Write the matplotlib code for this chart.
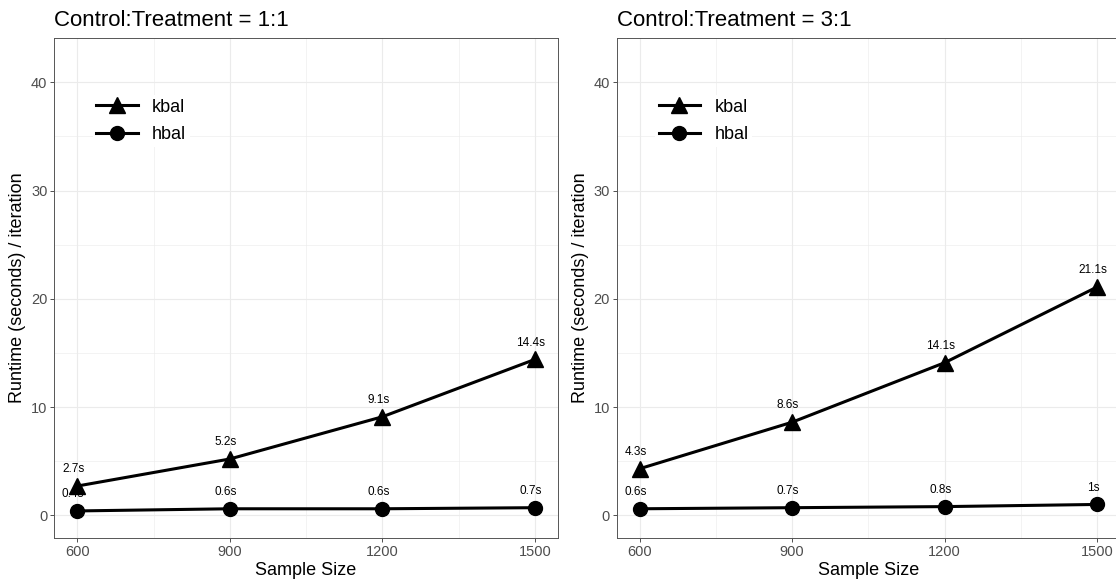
import matplotlib
matplotlib.use("Agg")
import matplotlib.pyplot as plt
from matplotlib.lines import Line2D
from matplotlib.ticker import MultipleLocator

plt.rcParams['font.family'] = ['Liberation Sans', 'DejaVu Sans']

sample_size = [600, 900, 1200, 1500]
kbal_11 = [2.7, 5.2, 9.1, 14.4]
hbal_11 = [0.4, 0.6, 0.6, 0.7]
kbal_31 = [4.3, 8.6, 14.1, 21.1]
hbal_31 = [0.6, 0.7, 0.8, 1.0]
kbal_lab_11 = ["2.7s", "5.2s", "9.1s", "14.4s"]
hbal_lab_11 = ["0.4s", "0.6s", "0.6s", "0.7s"]
kbal_lab_31 = ["4.3s", "8.6s", "14.1s", "21.1s"]
hbal_lab_31 = ["0.6s", "0.7s", "0.8s", "1s"]
titles = ["Control:Treatment = 1:1", "Control:Treatment = 3:1"]

fig = plt.figure(figsize=(11.16, 5.83), dpi=100)
ax1 = fig.add_axes([0.0487, 0.0772, 0.4511, 0.8576])
ax2 = fig.add_axes([0.5526, 0.0772, 0.4511, 0.8576])

panels = [
    (ax1, kbal_11, hbal_11, kbal_lab_11, hbal_lab_11, titles[0]),
    (ax2, kbal_31, hbal_31, kbal_lab_31, hbal_lab_31, titles[1]),
]

for ax, kb, hb, kb_lab, hb_lab, title in panels:
    ax.plot(sample_size, kb, color='black', lw=2.2, marker='^', ms=11, zorder=3)
    ax.plot(sample_size, hb, color='black', lw=2.2, marker='o', ms=10, zorder=3)
    for x, y, s in zip(sample_size, kb, kb_lab):
        ax.text(x - 8, y + 1.55, s, ha='center', va='center', fontsize=8.5, zorder=4)
    for x, y, s in zip(sample_size, hb, hb_lab):
        ax.text(x - 8, y + 1.55, s, ha='center', va='center', fontsize=8.5, zorder=4)

    ax.set_xlim(555, 1545)
    ax.set_ylim(-2.1, 44.1)
    ax.set_xticks(sample_size)
    ax.set_yticks([0, 10, 20, 30, 40])
    ax.xaxis.set_minor_locator(MultipleLocator(150))
    ax.yaxis.set_minor_locator(MultipleLocator(5))
    ax.grid(which='major', color='#EBEBEB', lw=0.8, zorder=0)
    ax.grid(which='minor', color='#EBEBEB', lw=0.4, zorder=0)
    ax.set_axisbelow(True)
    ax.tick_params(which='major', length=3, width=0.6, color='#333333',
                   labelsize=10.5, labelcolor='#4D4D4D', pad=2)
    ax.tick_params(which='minor', length=0)
    for sp in ax.spines.values():
        sp.set_color('#555555')
        sp.set_linewidth(0.7)

    ax.set_xlabel("Sample Size", fontsize=13)
    ax.set_ylabel("Runtime (seconds) / iteration", fontsize=13)
    ax.xaxis.set_label_coords(0.5, -0.048)
    ax.xaxis.label.set_va('top')
    ax.yaxis.set_label_coords(-0.056, 0.5)
    ax.set_title(title, loc='left', fontsize=16, pad=8.4)

    handles = [
        Line2D([], [], color='black', lw=2.2, marker='^', ms=11),
        Line2D([], [], color='black', lw=2.2, marker='o', ms=10),
    ]
    ax.legend(handles, ["kbal", "hbal"], loc='center left', bbox_to_anchor=(0.076, 0.834),
              fontsize=13, frameon=True, facecolor='white', edgecolor='none', framealpha=1,
              fancybox=False, borderpad=0.2, borderaxespad=0, handlelength=2.3,
              handletextpad=0.8, labelspacing=0.6)

fig.savefig("out.png", dpi=100)
